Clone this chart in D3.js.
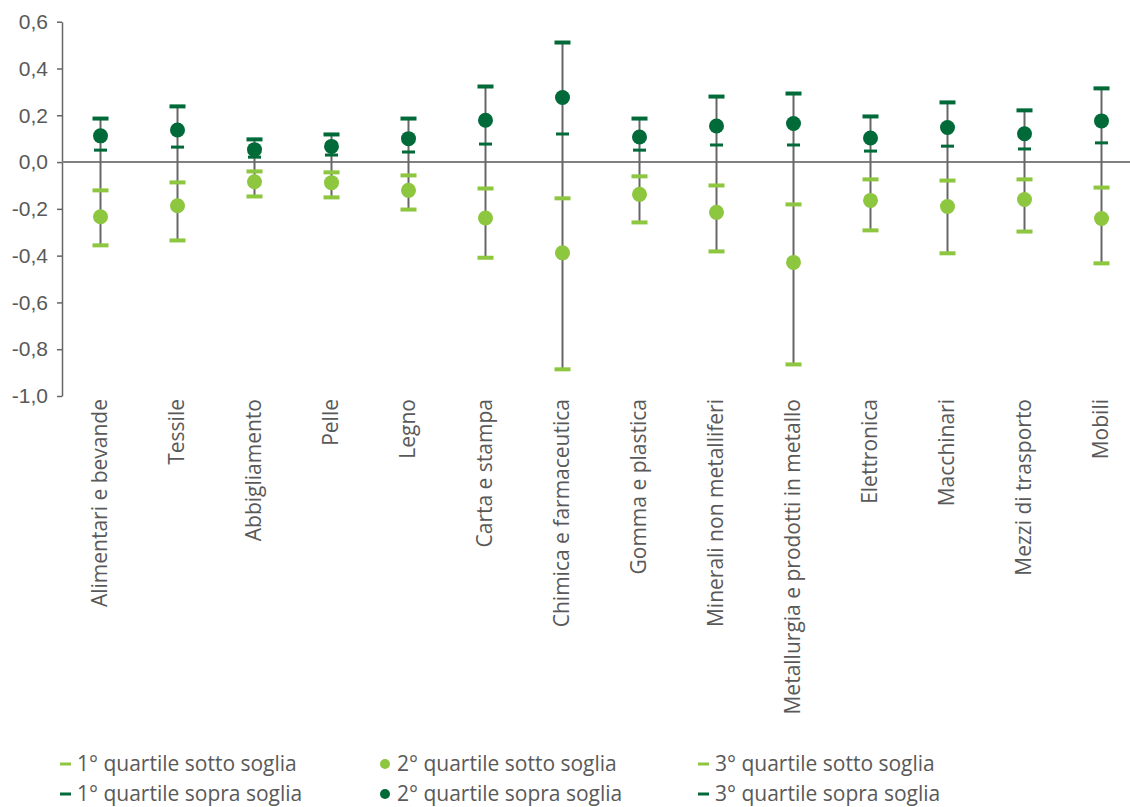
<!DOCTYPE html>
<meta charset="utf-8">
<script src="https://d3js.org/d3.v7.min.js"></script>
<style>
body { margin: 0; background: #fff; }
svg { font-family: "Open Sans", sans-serif; }
.axis text { fill: #595959; font-size: 21px; }
.axis path, .axis line { stroke: #666; stroke-width: 1.5; }
.legend text { fill: #595959; font-size: 21px; }
</style>
<body>
<div id="chart"></div>
<script>
var categories = ["Alimentari e bevande", "Tessile", "Abbigliamento", "Pelle", "Legno",
  "Carta e stampa", "Chimica e farmaceutica", "Gomma e plastica", "Minerali non metalliferi",
  "Metallurgia e prodotti in metallo", "Elettronica", "Macchinari", "Mezzi di trasporto", "Mobili"];

var q1Sotto  = [-0.356, -0.335, -0.147, -0.151, -0.203, -0.409, -0.886, -0.258, -0.382, -0.865, -0.292, -0.390, -0.297, -0.433];
var medSotto = [-0.234, -0.187, -0.084, -0.088, -0.121, -0.239, -0.388, -0.138, -0.215, -0.429, -0.164, -0.190, -0.160, -0.241];
var q3Sotto  = [-0.121, -0.087, -0.040, -0.044, -0.057, -0.113, -0.155, -0.061, -0.100, -0.181, -0.074, -0.079, -0.074, -0.109];
var q1Sopra  = [0.051, 0.064, 0.021, 0.030, 0.043, 0.077, 0.120, 0.051, 0.073, 0.073, 0.047, 0.068, 0.056, 0.082];
var medSopra = [0.112, 0.137, 0.053, 0.067, 0.100, 0.179, 0.276, 0.107, 0.154, 0.165, 0.103, 0.148, 0.121, 0.176];
var q3Sopra  = [0.186, 0.238, 0.097, 0.118, 0.186, 0.323, 0.511, 0.186, 0.280, 0.293, 0.195, 0.255, 0.221, 0.315];

var yTicks = [-1, -0.8, -0.6, -0.4, -0.2, 0, 0.2, 0.4, 0.6];

var legendLabels = ["1° quartile sotto soglia", "2° quartile sotto soglia", "3° quartile sotto soglia",
  "1° quartile sopra soglia", "2° quartile sopra soglia", "3° quartile sopra soglia"];

var light = "#8dc63f", dark = "#006a38";

var width = 1130, height = 807;

var svg = d3.select("#chart").append("svg")
  .attr("width", width)
  .attr("height", height);

var x = d3.scaleBand()
  .domain(categories)
  .range([62, 1140]);

var y = d3.scaleLinear()
  .domain([-1, 0.6])
  .range([396, 21.7]);

var fmt = function(d) { return d3.format(".1f")(d).replace(".", ",").replace("−", "-"); };

// y axis
svg.append("g")
  .attr("class", "axis")
  .attr("transform", "translate(62,0)")
  .call(d3.axisLeft(y).tickValues(yTicks).tickSize(5).tickPadding(9).tickFormat(fmt).tickSizeOuter(0));

// zero line
svg.append("line")
  .attr("x1", 62).attr("x2", 1130)
  .attr("y1", y(0)).attr("y2", y(0))
  .attr("stroke", "#808080")
  .attr("stroke-width", 2);

// x labels
svg.append("g")
  .attr("class", "axis")
  .selectAll("text")
  .data(categories)
  .enter()
  .append("text")
    .attr("transform", function(d) { return "translate(" + (x(d) + x.bandwidth() / 2) + ",399) rotate(-90)"; })
    .attr("text-anchor", "end")
    .attr("dy", "0.3em")
    .text(function(d) { return d; });

var cx = function(i) { return x(categories[i]) + x.bandwidth() / 2; };
var idx = d3.range(categories.length);

// vertical range lines
svg.append("g").selectAll("line")
  .data(idx).enter()
  .append("line")
    .attr("x1", cx).attr("x2", cx)
    .attr("y1", function(i) { return y(q3Sopra[i]); })
    .attr("y2", function(i) { return y(q1Sotto[i]); })
    .attr("stroke", "#666")
    .attr("stroke-width", 2);

function caps(values, color, w, h) {
  svg.append("g").selectAll("rect")
    .data(idx).enter()
    .append("rect")
      .attr("x", function(i) { return cx(i) - w / 2; })
      .attr("y", function(i) { return y(values[i]) - h / 2; })
      .attr("width", w)
      .attr("height", h)
      .attr("fill", color);
}

caps(q1Sotto, light, 16, 4);
caps(q3Sotto, light, 16, 4);
caps(q1Sopra, dark, 13, 3);
caps(q3Sopra, dark, 16, 4);

function dots(values, color) {
  svg.append("g").selectAll("circle")
    .data(idx).enter()
    .append("circle")
      .attr("cx", cx)
      .attr("cy", function(i) { return y(values[i]); })
      .attr("r", 7.5)
      .attr("fill", color);
}

dots(medSotto, light);
dots(medSopra, dark);

// legend
var legendCols = [60, 380, 698];
var legendRows = [764, 794];
var legend = svg.append("g").attr("class", "legend");

legendLabels.forEach(function(label, k) {
  var col = k % 3, row = Math.floor(k / 3);
  var lx = legendCols[col], ly = legendRows[row];
  var color = row === 0 ? light : dark;
  if (col === 1) {
    legend.append("circle")
      .attr("cx", lx + 5).attr("cy", ly).attr("r", 5)
      .attr("fill", color);
  } else {
    legend.append("rect")
      .attr("x", lx).attr("y", ly - 1.5)
      .attr("width", 11).attr("height", 3)
      .attr("fill", color);
  }
  legend.append("text")
    .attr("x", lx + 17)
    .attr("y", ly + 7)
    .text(label);
});
</script>
</body>
